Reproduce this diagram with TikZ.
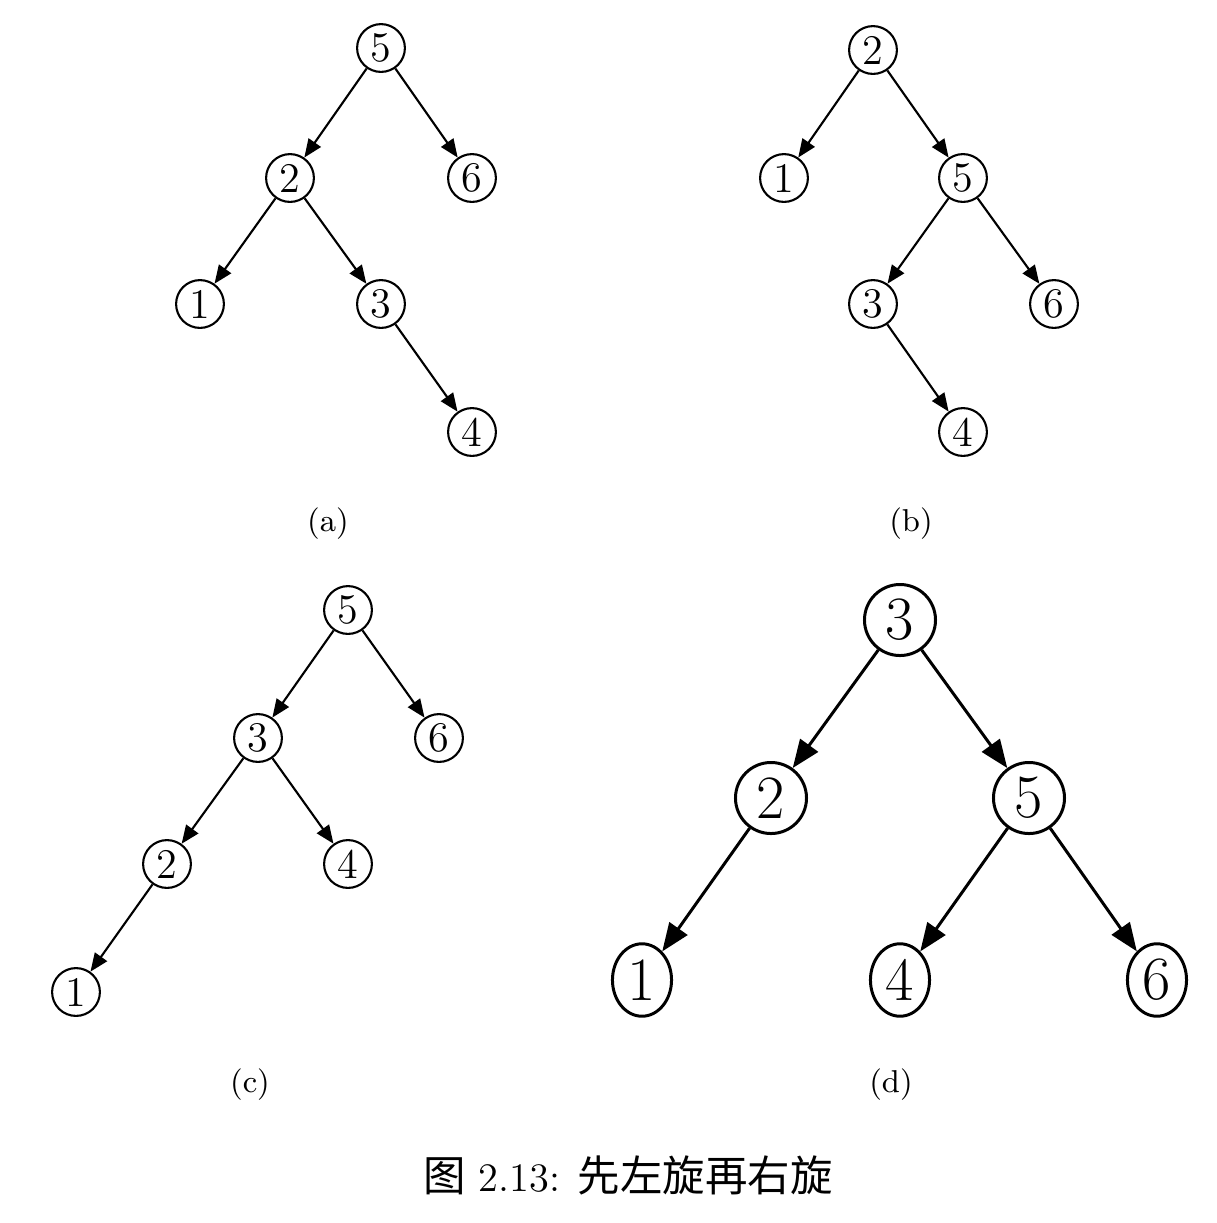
\documentclass[tikz,border=0pt]{standalone}
\usepackage{fontspec}
\newfontfamily\cjk[Scale=1.05]{Noto Sans CJK SC}
\usetikzlibrary{arrows.meta, shapes.geometric}
\tikzset{
  every picture/.style={line width=0.6pt, x=0.01cm, y=-0.01cm},
  tnode/.style={draw, circle, inner sep=0pt, minimum size=13.6pt, font=\fontsize{12}{14}\selectfont},
  bnode/.style={draw, circle, inner sep=0pt, minimum size=20.2pt, line width=0.85pt, font=\fontsize{17.5}{20}\selectfont},
  bleaf/.style={bnode, ellipse, minimum width=16.8pt, minimum height=20.6pt},
  link/.style={-{Triangle[length=5.2pt, width=4.2pt]}},
  blink/.style={-{Triangle[length=8pt, width=6.2pt]}, line width=0.85pt},
  subcap/.style={font=\fontsize{9}{11}\selectfont},
  figcap/.style={font=\fontsize{11.5}{13}\selectfont},
}
\begin{document}
\begin{tikzpicture}
  \useasboundingbox (0,0) rectangle (1217,1223);
  % (a): before rotation
  \foreach \n/\x/\y in {5/381/48, 2/290/178, 6/472/178, 1/200/304, 3/381/304, 4/472/432}
    \node[tnode] (a\n) at (\x,\y) {\n};
  \foreach \p/\c in {5/2, 5/6, 2/1, 2/3, 3/4} \draw[link] (a\p) -- (a\c);
  \node[subcap] (capa) at (328,524) {(a)};
  % (b)
  \foreach \n/\x/\y in {2/873/50, 1/784/178, 5/963/178, 3/873/304, 6/1054/304, 4/963/432}
    \node[tnode] (b\n) at (\x,\y) {\n};
  \foreach \p/\c in {2/1, 2/5, 5/3, 5/6, 3/4} \draw[link] (b\p) -- (b\c);
  \node[subcap] (capb) at (911,524) {(b)};
  % (c): after left rotation
  \foreach \n/\x/\y in {5/348/610, 3/258/738, 6/439/738, 2/167/864, 4/348/864, 1/76/992}
    \node[tnode] (c\n) at (\x,\y) {\n};
  \foreach \p/\c in {5/3, 5/6, 3/2, 3/4, 2/1} \draw[link] (c\p) -- (c\c);
  \node[subcap] (capc) at (250,1085) {(c)};
  % (d): after right rotation
  \foreach \n/\x/\y in {3/900/620, 2/771/798, 5/1029/798}
    \node[bnode] (d\n) at (\x,\y) {\n};
  \foreach \n/\x/\y in {1/642/980, 4/900/980, 6/1157/980}
    \node[bleaf] (d\n) at (\x,\y) {\n};
  \foreach \p/\c in {3/2, 3/5, 2/1, 5/4, 5/6} \draw[blink] (d\p) -- (d\c);
  \node[subcap] (capd) at (891,1085) {(d)};
  \node[figcap] (cap) at (628,1175) {{\cjk 图} 2.13: {\cjk 先左旋再右旋}};
\end{tikzpicture}
\end{document}
